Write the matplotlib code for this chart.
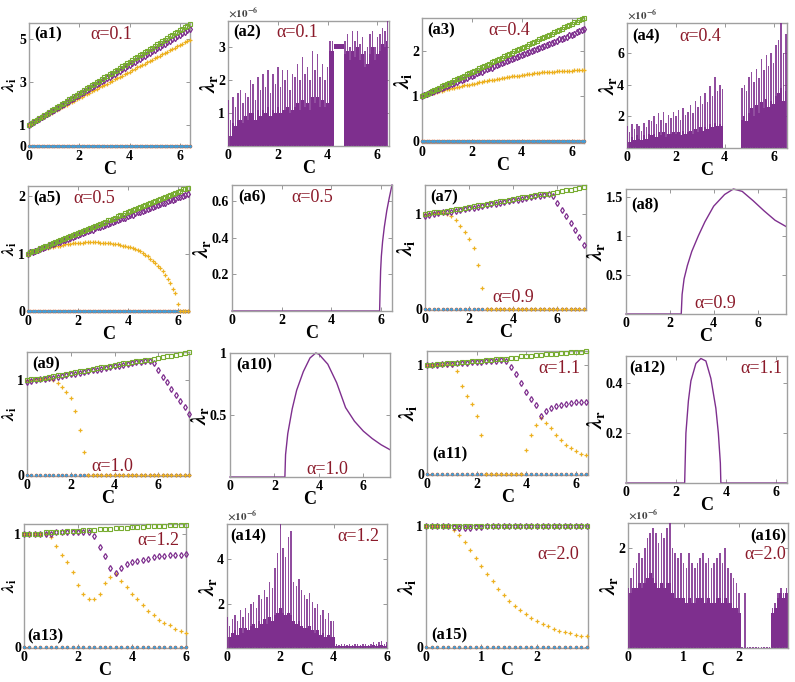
import numpy as np
import matplotlib
matplotlib.use('Agg')
import matplotlib.pyplot as plt

plt.rcParams['font.family'] = ['Liberation Serif', 'DejaVu Serif']
plt.rcParams['font.weight'] = 'bold'
plt.rcParams['mathtext.fontset'] = 'stix'

# colours (matlab default order)
c_blue = '#3fa0dc'
c_red = '#d95319'
c_yel = '#edb120'
c_pur = '#7e2f8e'
c_grn = '#77ac30'
c_alpha = '#8b1a2a'

# ---------------- lambda_i panels ----------------
# (a1) alpha=0.1, C = 0..6.4 step 0.1
C1 = np.round(np.arange(0, 6.41, 0.1), 2)
grn1 = [1.00,1.07,1.15,1.22,1.29,1.37,1.44,1.51,1.59,1.66,
        1.74,1.81,1.88,1.96,2.03,2.10,2.18,2.25,2.32,2.40,
        2.47,2.54,2.62,2.69,2.76,2.84,2.91,2.98,3.06,3.13,
        3.21,3.28,3.35,3.43,3.50,3.57,3.65,3.72,3.79,3.87,
        3.94,4.01,4.09,4.16,4.23,4.31,4.38,4.45,4.53,4.60,
        4.68,4.75,4.82,4.90,4.97,5.04,5.12,5.19,5.26,5.34,
        5.41,5.48,5.56,5.63,5.70]
pur1 = [1.00,1.07,1.14,1.21,1.28,1.35,1.42,1.49,1.56,1.63,
        1.70,1.77,1.84,1.91,1.98,2.05,2.12,2.19,2.26,2.33,
        2.40,2.47,2.54,2.61,2.68,2.75,2.82,2.89,2.96,3.03,
        3.10,3.17,3.24,3.31,3.38,3.45,3.52,3.59,3.66,3.73,
        3.80,3.87,3.94,4.01,4.08,4.15,4.22,4.29,4.36,4.43,
        4.50,4.57,4.64,4.71,4.78,4.85,4.92,4.99,5.06,5.13,
        5.20,5.27,5.34,5.41,5.48]
yel1 = [1.00,1.06,1.12,1.19,1.25,1.31,1.37,1.43,1.50,1.56,
        1.62,1.68,1.74,1.81,1.87,1.93,1.99,2.05,2.12,2.18,
        2.24,2.30,2.36,2.43,2.49,2.55,2.61,2.67,2.74,2.80,
        2.86,2.92,2.98,3.05,3.11,3.17,3.23,3.29,3.36,3.42,
        3.48,3.54,3.60,3.67,3.73,3.79,3.85,3.91,3.98,4.04,
        4.10,4.16,4.22,4.29,4.35,4.41,4.47,4.53,4.60,4.66,
        4.72,4.78,4.84,4.91,4.97]

# (a3) alpha=0.4, C = 0..6.5 step 0.1
C3 = np.round(np.arange(0, 6.51, 0.1), 2)
grn3 = [1.00,1.03,1.05,1.08,1.11,1.14,1.16,1.19,1.22,1.24,
        1.27,1.30,1.32,1.35,1.38,1.41,1.43,1.46,1.49,1.51,
        1.54,1.57,1.59,1.62,1.65,1.68,1.70,1.73,1.76,1.78,
        1.81,1.84,1.86,1.89,1.92,1.95,1.97,2.00,2.03,2.05,
        2.08,2.11,2.13,2.16,2.19,2.22,2.24,2.27,2.30,2.32,
        2.35,2.38,2.40,2.43,2.46,2.49,2.51,2.54,2.57,2.59,
        2.62,2.65,2.67,2.70,2.73,2.76]
pur3 = [1.00,1.02,1.05,1.07,1.09,1.12,1.14,1.16,1.18,1.21,
        1.23,1.25,1.28,1.30,1.32,1.35,1.37,1.39,1.41,1.44,
        1.46,1.48,1.51,1.53,1.55,1.58,1.60,1.62,1.64,1.67,
        1.69,1.71,1.74,1.76,1.78,1.81,1.83,1.85,1.87,1.90,
        1.92,1.94,1.97,1.99,2.01,2.04,2.06,2.08,2.10,2.13,
        2.15,2.17,2.20,2.22,2.24,2.27,2.29,2.31,2.33,2.36,
        2.38,2.40,2.43,2.45,2.47,2.50]
yel3 = [1.00,1.02,1.03,1.05,1.06,1.08,1.09,1.11,1.12,1.14,
        1.15,1.16,1.18,1.19,1.20,1.21,1.22,1.24,1.25,1.26,
        1.27,1.28,1.30,1.31,1.32,1.33,1.34,1.35,1.36,1.37,
        1.38,1.39,1.40,1.41,1.42,1.43,1.44,1.45,1.45,1.46,
        1.47,1.48,1.49,1.49,1.50,1.51,1.52,1.52,1.53,1.53,
        1.54,1.54,1.55,1.55,1.56,1.56,1.56,1.57,1.57,1.57,
        1.57,1.58,1.58,1.58,1.58,1.58]

# (a5) alpha=0.5, C = 0..6.4 step 0.1
C5 = np.round(np.arange(0, 6.41, 0.1), 2)
grn5 = [1.00,1.02,1.04,1.05,1.07,1.09,1.11,1.13,1.14,1.16,
        1.18,1.20,1.22,1.23,1.25,1.27,1.29,1.31,1.32,1.34,
        1.36,1.38,1.40,1.41,1.43,1.45,1.47,1.49,1.50,1.52,
        1.54,1.56,1.58,1.59,1.61,1.63,1.65,1.67,1.68,1.70,
        1.72,1.74,1.76,1.77,1.79,1.81,1.83,1.85,1.86,1.88,
        1.90,1.92,1.94,1.95,1.97,1.99,2.01,2.03,2.04,2.06,
        2.08,2.10,2.12,2.13,2.15]
pur5 = [1.00,1.02,1.03,1.05,1.07,1.08,1.10,1.11,1.13,1.15,
        1.16,1.18,1.20,1.21,1.23,1.24,1.26,1.28,1.29,1.31,
        1.33,1.34,1.36,1.37,1.39,1.41,1.42,1.44,1.46,1.47,
        1.49,1.50,1.52,1.54,1.55,1.57,1.59,1.60,1.62,1.63,
        1.65,1.67,1.68,1.70,1.72,1.73,1.75,1.76,1.78,1.80,
        1.81,1.83,1.85,1.86,1.88,1.89,1.91,1.93,1.94,1.96,
        1.98,1.99,2.01,2.02,2.04]
yel5 = [1.00,1.02,1.03,1.04,1.06,1.07,1.08,1.09,1.10,1.11,
        1.12,1.13,1.14,1.14,1.15,1.16,1.16,1.17,1.18,1.18,
        1.19,1.19,1.19,1.20,1.20,1.20,1.20,1.20,1.20,1.19,
        1.19,1.19,1.18,1.18,1.17,1.16,1.16,1.15,1.14,1.13,
        1.12,1.11,1.09,1.08,1.06,1.04,1.01,0.98,0.95,0.91,
        0.87,0.83,0.79,0.74,0.69,0.63,0.56,0.48,0.39,0.31,
        0.12,0.00,0.00,0.00,0.00]

# (a7) alpha=0.9, C = 0..7.2 step 0.2
C7 = np.round(np.arange(0, 7.21, 0.2), 2)
grn7 = [1.00,1.01,1.02,1.02,1.03,1.04,1.05,1.06,1.06,1.07,
        1.08,1.09,1.10,1.10,1.11,1.12,1.13,1.14,1.14,1.15,
        1.16,1.17,1.18,1.18,1.19,1.20,1.21,1.22,1.22,1.23,
        1.24,1.25,1.26,1.26,1.27,1.28,1.29]
pur7 = [0.98,0.99,1.00,1.01,1.02,1.03,1.03,1.04,1.05,1.06,
        1.07,1.07,1.08,1.09,1.10,1.11,1.11,1.12,1.13,1.14,
        1.15,1.15,1.16,1.17,1.18,1.19,1.19,1.20,1.21,1.19,
        1.12,1.05,0.98,0.91,0.83,0.76,0.68]
yel7 = [1.00,1.00,1.01,1.01,1.01,1.00,0.98,0.94,0.88,0.81,
        0.74,0.64,0.47,0.22,0.00,0.00,0.00,0.00,0.00,0.00,
        0.00,0.00,0.00,0.00,0.00,0.00,0.00,0.00,0.00,0.00,
        0.00,0.00,0.00,0.00,0.00,0.00,0.00]

# (a9) alpha=1.0, C = 0..7.4 step 0.2
C9 = np.round(np.arange(0, 7.41, 0.2), 2)
grn9 = [1.00,1.01,1.02,1.02,1.03,1.04,1.05,1.06,1.06,1.07,
        1.08,1.09,1.10,1.10,1.11,1.12,1.13,1.14,1.14,1.15,
        1.16,1.17,1.18,1.18,1.19,1.20,1.21,1.22,1.22,1.23,
        1.24,1.25,1.26,1.26,1.27,1.28,1.29,1.30]
pur9 = [0.98,0.99,1.00,1.01,1.02,1.03,1.03,1.04,1.05,1.06,
        1.07,1.07,1.08,1.09,1.10,1.11,1.11,1.12,1.13,1.14,
        1.15,1.15,1.16,1.17,1.18,1.19,1.19,1.20,1.21,1.18,
        1.11,1.04,0.98,0.91,0.85,0.78,0.72,0.65]
yel9 = [1.00,1.00,1.01,1.01,1.01,1.01,1.00,0.97,0.93,0.88,
        0.81,0.68,0.48,0.24,0.00,0.00,0.00,0.00,0.00,0.00,
        0.00,0.00,0.00,0.00,0.00,0.00,0.00,0.00,0.00,0.00,
        0.00,0.00,0.00,0.00,0.00,0.00,0.00,0.00]

# (a11) alpha=1.1, C = 0..6.4 step 0.2
C11 = np.round(np.arange(0, 6.41, 0.2), 2)
grn11 = [1.00,1.00,1.01,1.01,1.02,1.02,1.02,1.03,1.03,1.04,
         1.04,1.04,1.05,1.05,1.06,1.06,1.06,1.07,1.07,1.08,
         1.08,1.08,1.09,1.09,1.10,1.10,1.10,1.11,1.11,1.12,
         1.12,1.12,1.13]
pur11 = [1.00,1.00,1.00,1.01,1.01,1.01,1.02,1.02,1.02,1.03,
         1.03,1.03,1.04,1.04,1.04,1.05,1.04,0.98,0.92,0.84,
         0.75,0.69,0.63,0.53,0.58,0.61,0.62,0.63,0.64,0.65,
         0.66,0.66,0.66]
yel11 = [1.00,1.00,1.00,1.00,1.00,1.00,0.95,0.81,0.72,0.64,
         0.53,0.36,0.00,0.00,0.00,0.00,0.00,0.00,0.00,0.00,
         0.22,0.36,0.45,0.51,0.47,0.42,0.36,0.31,0.27,0.24,
         0.21,0.18,0.17]

# (a13) alpha=1.2, C = 0..6 step 0.2
C13 = np.round(np.arange(0, 6.01, 0.2), 2)
grn13 = [1.00,1.00,1.00,1.00,1.01,1.01,1.01,1.01,1.02,1.02,
         1.02,1.03,1.03,1.03,1.04,1.04,1.04,1.05,1.05,1.05,
         1.06,1.06,1.06,1.07,1.07,1.07,1.07,1.08,1.08,1.08,
         1.08]
pur13 = [1.00,1.00,1.00,1.00,1.00,1.00,1.01,1.01,1.01,1.01,
         1.01,1.01,1.01,0.98,0.88,0.80,0.70,0.65,0.70,0.73,
         0.75,0.76,0.77,0.78,0.79,0.80,0.80,0.81,0.81,0.81,
         0.82]
yel13 = [1.00,1.00,1.00,1.00,1.00,0.97,0.89,0.81,0.75,0.66,
         0.55,0.47,0.42,0.42,0.47,0.56,0.62,0.64,0.58,0.53,
         0.47,0.42,0.37,0.32,0.28,0.24,0.21,0.19,0.16,0.14,
         0.12]

# (a15) alpha=2.0, C = 0..2.9 step 0.1
C15 = np.round(np.arange(0, 2.91, 0.1), 2)
grn15 = [1.00]*30
pur15 = [1.00,1.00,1.00,1.00,1.00,0.99,0.98,0.98,0.98,0.985,
         0.99,0.995,1.00,1.00,1.00,1.00,1.00,1.00,1.00,1.00,
         1.00,1.00,1.00,1.00,1.00,1.00,1.00,1.00,1.00,1.00]
yel15 = [1.00,1.00,1.00,1.00,1.00,0.96,0.92,0.865,0.80,0.735,
         0.665,0.60,0.54,0.48,0.43,0.38,0.34,0.30,0.27,0.24,
         0.21,0.19,0.17,0.15,0.13,0.12,0.11,0.10,0.09,0.085]

# ---------------- lambda_r smooth panels ----------------
C6 = [0, 5.96, 5.98, 6.00, 6.03, 6.08, 6.15, 6.25, 6.35, 6.46]
lr6 = [0, 0, 0.12, 0.22, 0.30, 0.38, 0.46, 0.55, 0.62, 0.69]

C8 = [0, 2.52, 2.56, 2.65, 2.8, 3.0, 3.3, 3.6, 4.0, 4.5, 4.9, 5.3, 5.8, 6.3, 6.8, 7.3]
lr8 = [0, 0, 0.25, 0.45, 0.62, 0.80, 1.00, 1.18, 1.38, 1.53, 1.60, 1.57, 1.45, 1.32, 1.20, 1.12]

C10 = [0, 2.47, 2.50, 2.6, 2.8, 3.0, 3.3, 3.6, 3.86, 4.0, 4.4, 4.8, 5.2, 5.6, 6.0, 6.4, 6.8, 7.2]
lr10 = [0, 0, 0.18, 0.35, 0.55, 0.70, 0.85, 0.96, 1.00, 0.99, 0.91, 0.76, 0.56, 0.45, 0.37, 0.31, 0.26, 0.22]

C12 = [0, 2.35, 2.40, 2.5, 2.6, 2.8, 3.0, 3.2, 3.4, 3.6, 3.7, 3.78, 3.80, 6.45]
lr12 = [0, 0, 0.20, 0.33, 0.41, 0.48, 0.50, 0.49, 0.42, 0.30, 0.20, 0.08, 0, 0]

# ---------------- lambda_r noisy panels (units of 1e-6) ----------------
C2 = np.round(np.arange(0, 6.41, 0.1), 2)
peak2 = [1.4,0.8,1.5,1.2,1.6,1.7,1.3,1.6,1.5,2.0,
         1.9,1.4,2.1,1.7,2.2,1.8,2.3,1.6,2.2,1.9,
         2.4,1.8,2.3,2.0,2.3,1.7,2.2,2.1,2.5,2.0,
         2.7,2.2,2.4,2.0,2.9,2.3,2.8,2.1,2.5,2.0,
         2.4,3.2,3.2,3.1,3.1,3.1,3.1,3.2,3.4,3.0,
         3.5,3.2,3.5,3.1,3.3,2.9,3.0,3.4,3.5,3.0,
         3.3,3.4,3.6,3.5,3.8]
fill2 = [0.5,0.3,0.7,0.6,0.8,0.8,0.7,0.9,0.8,1.0,
         1.0,0.8,1.1,0.9,1.1,1.0,1.2,0.9,1.1,1.0,
         1.2,1.0,1.1,1.1,1.2,1.0,1.1,1.2,1.3,1.1,
         1.4,1.2,1.3,1.1,1.5,1.3,1.5,1.2,1.4,1.2,
         1.3,2.9,2.9,3.1,3.1,3.1,3.1,2.8,2.9,2.6,
         2.9,2.7,3.0,2.6,2.8,2.4,2.5,2.8,3.0,2.6,
         2.8,2.9,3.1,3.0,3.2]
low2 = [0]*43 + [2.95, 2.95, 2.95, 2.95] + [0]*18

C4 = np.round(np.arange(0, 6.51, 0.1), 2)
peak4 = [1.4,1.0,1.5,1.2,1.5,1.4,1.1,1.6,1.3,1.8,
         1.7,2.0,1.5,2.2,1.8,2.3,1.6,2.1,1.9,2.3,
         2.0,2.4,1.8,2.5,2.1,2.3,2.7,2.2,3.0,2.6,
         3.3,2.8,3.5,2.9,3.9,3.3,4.5,3.6,4.0,3.7,
         0.0,0.0,0.0,0.0,0.0,0.0,0.0,3.8,4.0,3.6,
         4.5,4.8,4.2,5.0,4.4,5.6,4.9,5.9,5.2,6.0,
         5.4,6.5,6.8,7.9,6.0,7.2]
fill4 = [0.6,0.4,0.7,0.5,0.8,0.6,0.5,0.8,0.6,0.9,
         0.8,0.9,0.7,1.0,0.8,1.0,0.7,0.9,0.9,1.0,
         0.9,1.0,0.8,1.1,0.9,1.0,1.1,0.9,1.2,1.0,
         1.3,1.1,1.3,1.2,1.5,1.3,1.6,1.4,1.5,1.4,
         0.0,0.0,0.0,0.0,0.0,0.0,0.0,1.8,2.0,1.7,
         2.2,2.5,2.0,2.7,2.2,2.9,2.5,3.1,2.6,3.0,
         2.8,3.3,3.5,3.8,3.0,3.6]

C14 = np.round(np.arange(0, 6.01, 0.1), 2)
peak14 = [1.4,1.0,1.3,1.5,1.2,1.7,1.4,1.8,1.6,2.0,
          2.1,1.8,2.4,2.2,2.6,2.3,3.0,2.7,3.6,4.3,
          5.6,4.5,4.1,5.0,5.3,3.0,2.8,3.1,2.6,2.4,
          2.2,2.5,2.1,1.8,2.0,1.5,1.7,1.3,1.6,1.2,
          1.2,0.2,0.15,0.2,0.18,0.15,0.2,0.15,0.18,0.2,
          0.15,0.2,0.18,0.15,0.2,0.25,0.2,0.25,0.3,0.2,
          0.25]
fill14 = [0.6,0.5,0.7,0.8,0.6,0.9,0.7,0.9,0.8,1.0,
          1.1,0.9,1.2,1.1,1.3,1.1,1.4,1.2,1.5,1.6,
          1.8,1.6,1.5,1.6,1.5,1.2,1.1,1.2,1.0,0.9,
          0.9,1.0,0.8,0.7,0.8,0.6,0.7,0.5,0.6,0.5,
          0.5,0.1,0.08,0.1,0.09,0.08,0.1,0.08,0.09,0.1,
          0.08,0.1,0.09,0.08,0.1,0.12,0.1,0.12,0.14,0.1,
          0.12]

C16 = np.round(np.arange(0, 2.91, 0.05), 2)
peak16 = [1.2,1.4,1.6,1.7,1.9,1.8,2.0,2.2,2.3,2.4,
          2.3,2.1,2.3,2.2,2.4,2.5,2.0,1.9,1.8,1.9,
          1.7,1.6,1.9,1.7,1.6,1.7,1.8,1.9,1.7,1.8,
          1.6,1.7,1.8,1.9,1.7,2.0,1.6,1.5,1.4,1.3,
          1.1,0.03,1.1,0.03,0.03,0.03,0.03,0.03,0.03,0.03,
          0.03,0.03,0.8,0.9,1.1,1.2,1.1,1.2,1.2]
fill16 = [1.0,1.1,1.2,1.2,1.3,1.2,1.3,1.4,1.5,1.4,
          1.3,1.2,1.3,1.2,1.3,1.3,1.1,1.0,1.0,1.0,
          1.0,0.9,1.0,0.9,0.9,1.0,1.0,1.0,0.9,1.0,
          0.9,0.9,1.0,1.0,0.9,1.0,0.9,0.9,0.8,0.8,
          0.7,0.0,0.0,0.0,0.0,0.0,0.0,0.0,0.0,0.0,
          0.0,0.0,0.7,0.8,1.0,1.1,1.0,1.1,1.1]

# ---------------- figure ----------------
W, H = 795, 682
fig = plt.figure(figsize=(W / 100, H / 100), dpi=100)


def make_ax(box, xlim, ylim, xt, yt, ylab):
    l, t, r, b = box
    ax = fig.add_axes([l / W, 1 - b / H, (r - l) / W, (b - t) / H])
    ax.set_xlim(xlim)
    ax.set_ylim(ylim)
    ax.set_xticks(xt)
    ax.set_yticks(yt)
    ax.set_xticklabels(['%g' % v for v in xt], fontweight='bold', fontsize=10)
    ax.set_yticklabels(['%g' % v for v in yt], fontweight='bold', fontsize=10)
    ax.tick_params(direction='in', top=True, right=True, length=3, width=0.6,
                   color='#888888', pad=2)
    for s in ax.spines.values():
        s.set_color('#a0a0a0')
        s.set_linewidth(1.0)
    ax.set_xlabel('C', fontsize=13, fontweight='bold', labelpad=-1)
    if l < 100:
        # left column: keep the label inside the figure
        ax.set_ylabel(ylab, fontsize=12.5)
        ax.yaxis.set_label_coords((19 - l) / (r - l), 0.5)
    else:
        ax.set_ylabel(ylab, fontsize=15, labelpad=-1)
    return ax


def modes(ax, C, grn, pur, yel, ms=2.6):
    z = np.zeros(len(C))
    ax.plot(C, z, 'o', color=c_red, ms=2.6, mew=0, clip_on=False, zorder=3)
    ax.plot(C, z, '.', color=c_blue, ms=2.2, clip_on=False, zorder=3)
    ax.plot(C, yel, '+', color=c_yel, ms=ms + 0.4, mew=0.9, clip_on=False, zorder=4)
    ax.plot(C, pur, 'd', color=c_pur, mfc='none', ms=ms + 0.4, mew=0.9, clip_on=False, zorder=5)
    ax.plot(C, grn, 's', color=c_grn, mfc='none', ms=ms, mew=0.8, clip_on=False, zorder=6)


def noise(ax, C, peak, fill, w, low=None):
    if low is None:
        low = np.zeros(len(C))
    low = np.asarray(low, float)
    ax.fill_between(C, low, fill, step='mid', color=c_pur, lw=0, zorder=2)
    ax.bar(C, np.asarray(peak) - low, bottom=low, width=w, color=c_pur,
           alpha=0.85, lw=0, zorder=3)
    ax.text(0, 1.01, r'$\times10^{-6}$', transform=ax.transAxes, fontsize=8,
            color='#444444', va='bottom', ha='left', fontweight='normal')


def tag(ax, x, y, s, ha='left'):
    ax.text(x, y, s, transform=ax.transAxes, fontsize=12, fontweight='bold',
            ha=ha, va='center', zorder=10)


def alpha_txt(ax, x, y, s, ha='left'):
    ax.text(x, y, s, transform=ax.transAxes, fontsize=13, ha=ha, va='center',
            color=c_alpha, fontweight='normal', zorder=10)


li = r'$\lambda_\mathbf{i}$'
lr = r'$\lambda_\mathbf{r}$'

# row 1
ax = make_ax((29, 23, 190, 147), (0, 6.4), (-0.05, 5.75), [0, 2, 4, 6], [0, 1, 3, 5], li)
modes(ax, C1, grn1, pur1, yel1, ms=2.8)
tag(ax, 0.03, 0.91, '(a1)')
alpha_txt(ax, 0.38, 0.91, 'α=0.1')

ax = make_ax((228, 21, 389, 146), (0, 6.47), (0, 3.8), [0, 2, 4, 6], [1, 2, 3], lr)
noise(ax, C2, peak2, fill2, 0.06, low2)
tag(ax, 0.03, 0.91, '(a2)')
alpha_txt(ax, 0.30, 0.91, 'α=0.1')

ax = make_ax((422, 18, 584, 143), (0, 6.5), (-0.05, 2.75), [0, 2, 4, 6], [0, 1, 2], li)
modes(ax, C3, grn3, pur3, yel3, ms=2.8)
tag(ax, 0.03, 0.9, '(a3)')
alpha_txt(ax, 0.41, 0.9, 'α=0.4')

ax = make_ax((627, 23, 787, 148), (0, 6.55), (0, 7.9), [0, 2, 4, 6], [2, 4, 6], lr)
noise(ax, C4, peak4, fill4, 0.06)
tag(ax, 0.03, 0.89, '(a4)')
alpha_txt(ax, 0.33, 0.89, 'α=0.4')

# row 2
ax = make_ax((28, 186, 189, 312), (0, 6.45), (-0.02, 2.18), [0, 2, 4, 6], [0, 1, 2], li)
modes(ax, C5, grn5, pur5, yel5, ms=2.8)
tag(ax, 0.03, 0.9, '(a5)')
alpha_txt(ax, 0.28, 0.9, 'α=0.5')

ax = make_ax((232, 185, 392, 311), (0, 6.46), (0, 0.69), [0, 2, 4, 6], [0.2, 0.4, 0.6], lr)
ax.plot(C6, lr6, color=c_pur, lw=1.0, clip_on=False)
tag(ax, 0.04, 0.9, '(a6)')
alpha_txt(ax, 0.37, 0.9, 'α=0.5')

ax = make_ax((425, 185, 586, 310), (0, 7.3), (-0.01, 1.31), [0, 2, 4, 6], [0, 1], li)
modes(ax, C7, grn7, pur7, yel7)
tag(ax, 0.03, 0.9, '(a7)')
alpha_txt(ax, 0.42, 0.1, 'α=0.9')

ax = make_ax((626, 189, 786, 314), (0, 7.3), (0, 1.6), [0, 2, 4, 6], [0.5, 1, 1.5], lr)
ax.plot(C8, lr8, color=c_pur, lw=1.0, clip_on=False)
tag(ax, 0.03, 0.87, '(a8)')
alpha_txt(ax, 0.43, 0.08, 'α=0.9')

# row 3
ax = make_ax((27, 352, 189, 476), (0, 7.4), (-0.01, 1.3), [0, 2, 4, 6], [0, 1], li)
modes(ax, C9, grn9, pur9, yel9)
tag(ax, 0.03, 0.9, '(a9)')
alpha_txt(ax, 0.40, 0.08, 'α=1.0')

ax = make_ax((230, 353, 390, 477), (0, 7.2), (0, 1.0), [0, 2, 4, 6], [0.5, 1], lr)
ax.plot(C10, lr10, color=c_pur, lw=1.0, clip_on=False)
tag(ax, 0.04, 0.9, '(a10)')
alpha_txt(ax, 0.48, 0.06, 'α=1.0')

ax = make_ax((427, 351, 588, 475), (0, 6.5), (-0.01, 1.13), [0, 2, 4, 6], [0, 1], li)
modes(ax, C11, grn11, pur11, yel11)
tag(ax, 0.03, 0.17, '(a11)')
alpha_txt(ax, 0.69, 0.86, 'α=1.1')

ax = make_ax((626, 356, 787, 483), (0, 6.45), (0, 0.51), [0, 2, 4, 6], [0.2, 0.4], lr)
ax.plot(C12, lr12, color=c_pur, lw=1.0, clip_on=False)
tag(ax, 0.02, 0.9, '(a12)')
alpha_txt(ax, 0.97, 0.9, 'α=1.1', ha='right')

# row 4
ax = make_ax((24, 524, 186, 648), (0, 6.0), (-0.01, 1.085), [0, 2, 4, 6], [0, 1], li)
modes(ax, C13, grn13, pur13, yel13)
tag(ax, 0.02, 0.09, '(a13)')
alpha_txt(ax, 0.70, 0.87, 'α=1.2')

ax = make_ax((227, 524, 387, 648), (0, 6.0), (0, 5.6), [0, 2, 4, 6], [2, 4], lr)
noise(ax, C14, peak14, fill14, 0.06)
tag(ax, 0.02, 0.9, '(a14)')
alpha_txt(ax, 0.69, 0.9, 'α=1.2')

ax = make_ax((426, 525, 588, 648), (0, 2.92), (-0.01, 1.005), [0, 1, 2], [0, 1], li)
modes(ax, C15, grn15, pur15, yel15)
tag(ax, 0.03, 0.1, '(a15)')
alpha_txt(ax, 0.69, 0.76, 'α=2.0')

ax = make_ax((628, 523, 788, 648), (0, 2.88), (0, 2.5), [0, 1, 2], [2], lr)
noise(ax, C16, peak16, fill16, 0.03)
tag(ax, 0.99, 0.89, '(a16)', ha='right')
alpha_txt(ax, 0.99, 0.745, 'α=2.0', ha='right')

fig.savefig('out.png', dpi=100)
